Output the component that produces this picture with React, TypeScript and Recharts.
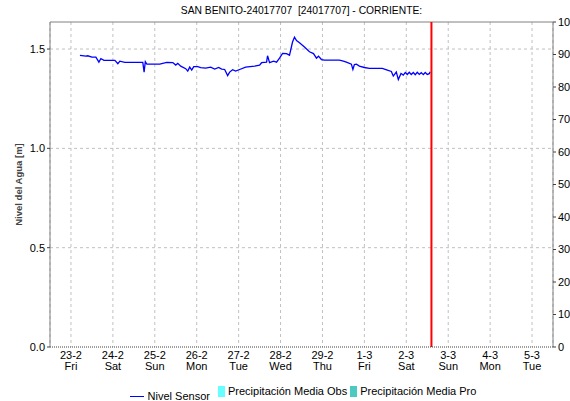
import {
  ComposedChart,
  Line,
  Bar,
  XAxis,
  YAxis,
  CartesianGrid,
  ReferenceLine,
  Legend,
} from "recharts";

const dateLabels = ["23-2", "24-2", "25-2", "26-2", "27-2", "28-2", "29-2", "1-3", "2-3", "3-3", "4-3", "5-3"];
const dayNames = ["Fri", "Sat", "Sun", "Mon", "Tue", "Wed", "Thu", "Fri", "Sat", "Sun", "Mon", "Tue"];
const dayTicks = [0, 1, 2, 3, 4, 5, 6, 7, 8, 9, 10, 11];

// days since 23-2 00h (tick at day centre)
const sensorDay = [
  0.214, 0.357, 0.4, 0.5, 0.595, 0.667, 0.714, 0.786, 0.929, 1.048, 1.119, 1.167, 1.286, 1.524, 1.714,
  1.745, 1.774, 1.81, 2.119, 2.286, 2.429, 2.5, 2.548, 2.619, 2.738, 2.786, 2.833, 2.881, 2.929, 3.024,
  3.095, 3.214, 3.333, 3.429, 3.524, 3.595, 3.667, 3.738, 3.786, 3.857, 3.929, 4.024, 4.167, 4.381, 4.5,
  4.548, 4.667, 4.69, 4.738, 4.833, 4.905, 4.976, 5.048, 5.143, 5.214, 5.286, 5.333, 5.381, 5.452, 5.571,
  5.69, 5.786, 5.857, 5.905, 5.976, 6.048, 6.286, 6.405, 6.5, 6.571, 6.69, 6.726, 6.762, 6.81, 6.881,
  7.0, 7.119, 7.429, 7.548, 7.643, 7.69, 7.762, 7.81, 7.874, 7.929, 7.976, 8.024, 8.071, 8.119, 8.167,
  8.214, 8.262, 8.31, 8.357, 8.405, 8.452, 8.5, 8.548, 8.571,
];
const sensorLevel = [
  1.468, 1.464, 1.466, 1.459, 1.459, 1.434, 1.452, 1.443, 1.443, 1.443, 1.426, 1.439, 1.433, 1.433, 1.433,
  1.384, 1.436, 1.424, 1.424, 1.433, 1.432, 1.419, 1.428, 1.414, 1.401, 1.389, 1.409, 1.394, 1.411, 1.411,
  1.406, 1.404, 1.409, 1.399, 1.407, 1.399, 1.397, 1.366, 1.384, 1.396, 1.389, 1.397, 1.409, 1.414, 1.419,
  1.431, 1.434, 1.466, 1.431, 1.439, 1.434, 1.454, 1.478, 1.477, 1.469, 1.535, 1.56, 1.543, 1.532, 1.51,
  1.486, 1.477, 1.454, 1.464, 1.447, 1.444, 1.444, 1.444, 1.439, 1.434, 1.424, 1.397, 1.422, 1.424, 1.414,
  1.407, 1.403, 1.403, 1.394, 1.387, 1.364, 1.384, 1.346, 1.377, 1.369, 1.382, 1.372, 1.383, 1.372, 1.382,
  1.371, 1.383, 1.372, 1.381, 1.371, 1.382, 1.372, 1.376, 1.386,
];

const nowDay = 8.6;
const Y_MAX = 1.636;
const leftTicks = [0, 0.5, 1.0, 1.5];
const rightTicks = [0, 10, 20, 30, 40, 50, 60, 70, 80, 90, 100];

const data = sensorDay.map((d, i) => ({ d, nivel: sensorLevel[i], precObs: null, precPro: null }));

const FONT = "'Liberation Sans', Arial, sans-serif";

function XTick(props: { x?: number; y?: number; payload?: { value: number } }) {
  const { x, y, payload } = props;
  if (x == null || y == null || !payload) return null;
  const i = payload.value;
  return (
    <g transform={`translate(${x},${y})`}>
      <text textAnchor="middle" y={8} fontSize={11} fill="#000" fontFamily={FONT}>
        {dateLabels[i]}
      </text>
      <text textAnchor="middle" y={19} fontSize={11} fill="#000" fontFamily={FONT}>
        {dayNames[i]}
      </text>
    </g>
  );
}

function LegendBox() {
  const item = { display: "inline-flex", alignItems: "center" };
  return (
    <div
      style={{
        height: 16,
        lineHeight: "16px",
        fontSize: 11,
        fontFamily: FONT,
        color: "#000",
        textAlign: "center",
        paddingLeft: 36,
      }}
    >
      <span style={item}>
        <span style={{ display: "inline-block", width: 14, height: 0, borderTop: "1.5px solid #0000ff", marginRight: 4 }} />
        Nivel Sensor
      </span>
      <span style={item}>
        <span style={{ display: "inline-block", width: 7, height: 11, background: "#66ffff", marginRight: 3, marginLeft: 8 }} />
        Precipitación Media Obs
      </span>
      <span style={item}>
        <span style={{ display: "inline-block", width: 7, height: 11, background: "#4cc9c0", marginRight: 3, marginLeft: 3 }} />
        Precipitación Media Pro
      </span>
    </div>
  );
}

export default function App() {
  return (
    <div style={{ position: "absolute", left: 0, top: 0, width: 570, height: 401, background: "#fff" }}>
      <div
        style={{
          position: "absolute",
          top: 3,
          left: 50,
          width: 503,
          textAlign: "center",
          fontFamily: FONT,
          fontSize: 10.3,
          whiteSpace: "pre",
          lineHeight: "16px",
        }}
      >
        SAN BENITO-24017707  [24017707] - CORRIENTE:
      </div>
      <ComposedChart width={570} height={401} data={data} margin={{ top: 22, right: 0, left: 0, bottom: 2 }}>
        <CartesianGrid
          yAxisId="left"
          stroke="#c0c0c0"
          strokeDasharray="3 3"
          horizontalValues={[0.5, 1.0, 1.5]}
        />
        <XAxis
          dataKey="d"
          type="number"
          domain={[-0.5, 11.5]}
          allowDataOverflow
          ticks={dayTicks}
          interval={0}
          height={36}
          tickLine={false}
          tickSize={2}
          tickMargin={2}
          axisLine={{ stroke: "#404040", strokeDasharray: "1 1" }}
          tick={<XTick />}
        />
        <YAxis
          yAxisId="left"
          width={50}
          domain={[0, Y_MAX]}
          allowDataOverflow
          ticks={leftTicks}
          tickFormatter={(v) => v.toFixed(1)}
          tickSize={3}
          tickMargin={2}
          axisLine={{ stroke: "#808080" }}
          tickLine={{ stroke: "#404040" }}
          tick={{ fontSize: 11, fill: "#000", fontFamily: FONT }}
          label={{
            value: "Nivel del Agua [m]",
            angle: -90,
            position: "insideLeft",
            offset: 19,
            style: { fontSize: 9.5, fontWeight: "bold", fill: "#444", fontFamily: FONT, textAnchor: "middle" },
          }}
        />
        <YAxis
          yAxisId="right"
          orientation="right"
          width={17}
          domain={[0, 100]}
          allowDataOverflow
          ticks={rightTicks}
          interval={0}
          tickSize={3}
          tickMargin={2}
          axisLine={{ stroke: "#808080" }}
          tickLine={{ stroke: "#404040" }}
          tick={{ fontSize: 11, fill: "#000", fontFamily: FONT }}
        />
        <ReferenceLine yAxisId="right" y={100} stroke="#808080" ifOverflow="visible" />
        <Bar yAxisId="right" dataKey="precObs" fill="#66ffff" isAnimationActive={false} />
        <Bar yAxisId="right" dataKey="precPro" fill="#4cc9c0" isAnimationActive={false} />
        <Line
          yAxisId="left"
          type="linear"
          dataKey="nivel"
          stroke="#0000ff"
          strokeWidth={1.3}
          dot={false}
          activeDot={false}
          isAnimationActive={false}
        />
        <ReferenceLine yAxisId="left" x={nowDay} stroke="#ff0000" strokeWidth={2} />
        <Legend verticalAlign="bottom" content={<LegendBox />} />
      </ComposedChart>
    </div>
  );
}
